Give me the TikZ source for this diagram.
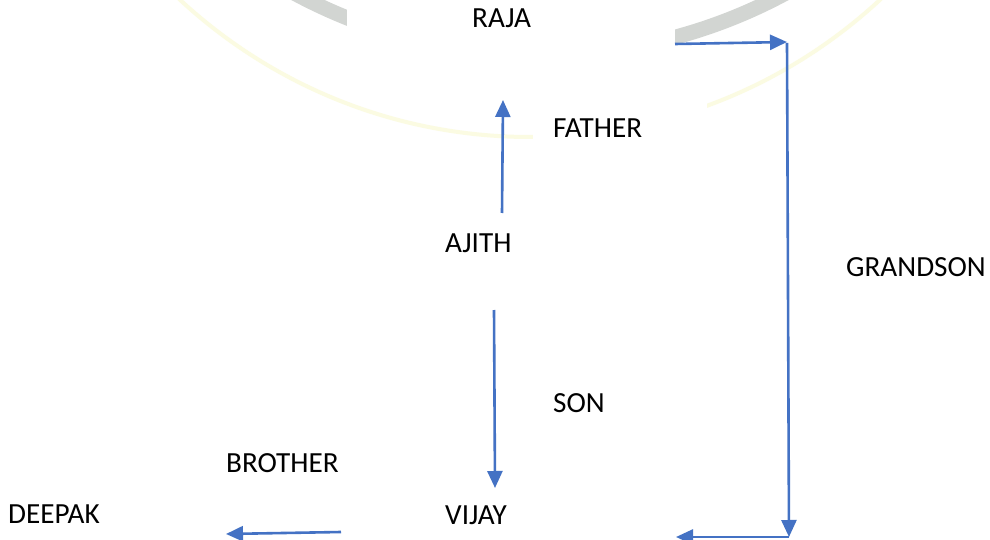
\documentclass[tikz,border=0pt]{standalone}
\usepackage{fontspec}
\setmainfont{Carlito}
\usetikzlibrary{arrows.meta}
\definecolor{arrowblue}{HTML}{4472C4}
\definecolor{wmgray}{HTML}{D2D5D2}
\definecolor{wmyellow}{HTML}{FBFBE2}
\tikzset{
  lbl/.style={anchor=base west, inner sep=0pt, font=\fontsize{29.2}{33}\selectfont, text=black},
  rel/.style={draw=arrowblue, line width=2.6pt, -{Triangle[length=17pt,width=15pt]}}
}
\begin{document}
\begin{tikzpicture}[x=1pt,y=-1pt]
\useasboundingbox (0,0) rectangle (990,540);
\fill[white] (0,0) rectangle (990,540);
% faint watermark ring
\begin{scope}
\clip (0,0) rectangle (990,540);
\draw[wmgray, line width=15pt] (540,-463) circle[radius=518];
\draw[wmyellow, line width=4pt] (530,-378) circle[radius=515];
\end{scope}
% white text boxes hiding parts of the watermark
\fill[white] (347,0) rectangle (675,75);
\fill[white] (533,88) rectangle (707,170);
% labels
\node[lbl] (raja) at (472,28) {RAJA};
\node[lbl] (father) at (553,138) {FATHER};
\node[lbl] (ajith) at (445,252) {AJITH};
\node[lbl] (grandson) at (846,276) {GRANDSON};
\node[lbl] (son) at (553,412) {SON};
\node[lbl] (brother) at (226,472) {BROTHER};
\node[lbl] (deepak) at (8,523) {DEEPAK};
\node[lbl] (vijay) at (445,524) {VIJAY};
% connector end points
\coordinate (a1) at (502,213);
\coordinate (a2) at (503,100);
\coordinate (b1) at (494,310);
\coordinate (b2) at (495,488);
\coordinate (c1) at (675,44);
\coordinate (c2) at (787,42);
\coordinate (d1) at (787,43);
\coordinate (d2) at (789,537);
\coordinate (e1) at (789,537);
\coordinate (e2) at (676,537);
\coordinate (f1) at (341,532);
\coordinate (f2) at (226,534);
% connectors
\draw[rel] (a1) -- (a2);
\draw[rel] (b1) -- (b2);
\draw[rel] (c1) -- (c2);
\draw[rel] (d1) -- (d2);
\draw[rel] (e1) -- (e2);
\draw[rel] (f1) -- (f2);
\end{tikzpicture}
\end{document}
